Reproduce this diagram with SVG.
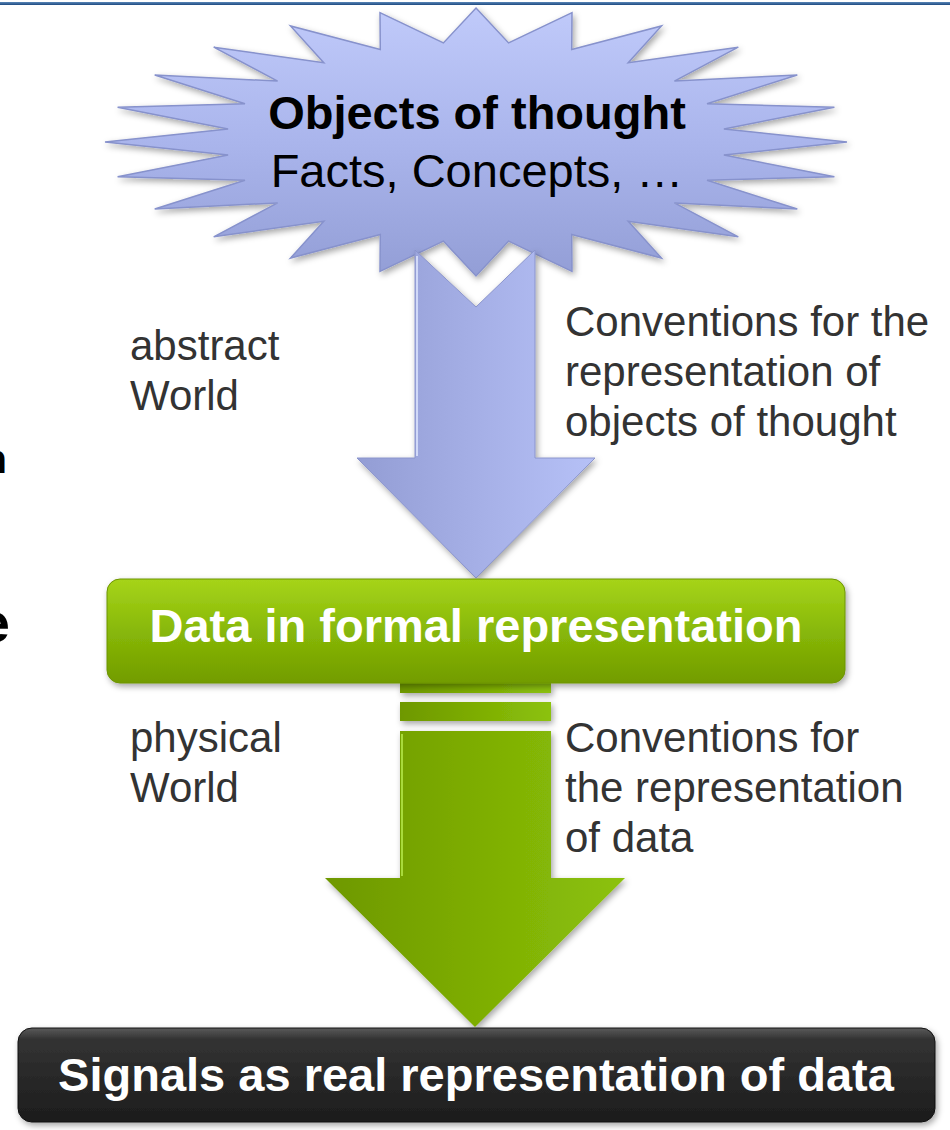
<svg xmlns="http://www.w3.org/2000/svg" width="950" height="1130" viewBox="0 0 950 1130">
<style>
.lbl{font-family:"Liberation Sans",Arial,sans-serif;font-size:42px;fill:#333333}
.big{font-family:"Liberation Sans",Arial,sans-serif;font-size:47px}
.b{font-weight:bold}
.white{fill:#ffffff;font-weight:bold;text-anchor:middle}
</style>
<defs>
<linearGradient id="gStar" x1="0" y1="0" x2="0" y2="1">
<stop offset="0" stop-color="#c0cafa"/>
<stop offset="0.5" stop-color="#aab5ec"/>
<stop offset="1" stop-color="#939ed6"/>
</linearGradient>
<linearGradient id="gBlueArrow" x1="0" y1="0" x2="1" y2="0">
<stop offset="0" stop-color="#939dd4"/>
<stop offset="0.5" stop-color="#a5afe6"/>
<stop offset="1" stop-color="#b6c1f7"/>
</linearGradient>
<linearGradient id="gGreenArrow" x1="0" y1="0" x2="1" y2="0">
<stop offset="0" stop-color="#6e9800"/>
<stop offset="0.5" stop-color="#7dad04"/>
<stop offset="1" stop-color="#8cc20a"/>
</linearGradient>
<linearGradient id="gGreenBox" x1="0" y1="0" x2="0" y2="1">
<stop offset="0" stop-color="#a6d41a"/>
<stop offset="0.5" stop-color="#88b808"/>
<stop offset="1" stop-color="#729c00"/>
</linearGradient>
<linearGradient id="gBlackBox" x1="0" y1="0" x2="0" y2="1">
<stop offset="0" stop-color="#5a5a5a"/>
<stop offset="0.12" stop-color="#333333"/>
<stop offset="1" stop-color="#1c1c1c"/>
</linearGradient>
<linearGradient id="gTopLine" x1="0" y1="0" x2="0" y2="1">
<stop offset="0" stop-color="#5a86b8"/>
<stop offset="1" stop-color="#1d4a80"/>
</linearGradient>
<filter id="shadow" x="-10%" y="-10%" width="120%" height="130%">
<feDropShadow dx="2" dy="3" stdDeviation="3" flood-color="#000" flood-opacity="0.35"/>
</filter>
</defs>

<rect x="0" y="2" width="950" height="3" fill="url(#gTopLine)"/>

<g id="edge-fragments" font-family="Liberation Sans,Arial,sans-serif" font-weight="bold" fill="#000">
<text x="7" y="473" font-size="40" text-anchor="end">n</text>
<text x="10" y="642" font-size="56" text-anchor="end">e</text>
</g>

<g id="node-objects">
<polygon filter="url(#shadow)" fill="url(#gStar)" stroke="#8792cc" stroke-width="1.5" stroke-linejoin="miter"
points="476,8 508.6,42.9 572,12.6 571.7,49.6 661.5,25.9 628.2,62.7 738.3,47.2 674.4,81.1 797.3,75 707,103.7 834.4,107.3 723.9,128.9 847,142 723.9,155.1 834.4,176.7 707,180.3 797.3,209 674.4,202.9 738.3,236.8 628.2,221.3 661.5,258.1 571.7,234.4 572,271.4 508.6,241.1 476,276 443.4,241.1 380,271.4 380.3,234.4 290.5,258.1 323.8,221.3 213.7,236.8 277.6,202.9 154.7,209 245,180.3 117.6,176.7 228.1,155.1 105,142 228.1,128.9 117.6,107.3 245,103.7 154.7,75 277.6,81.1 213.7,47.2 323.8,62.7 290.5,25.9 380.3,49.6 380,12.6 443.4,42.9"/>
<text class="big b" x="477" y="129" text-anchor="middle" fill="#000">Objects of thought</text>
<text class="big" x="477" y="187" text-anchor="middle" fill="#000">Facts, Concepts, …</text>
</g>

<g id="connectors">
<path id="arrow-abstract" filter="url(#shadow)" fill="url(#gBlueArrow)" stroke="#8a94cc" stroke-width="1"
d="M415,250 L476,307 L535,250 L535,458 L595,458 L476,578 L357,458 L415,458 Z"/>
<path d="M417,256 L417,456" stroke="#dfe6ff" stroke-width="2" fill="none" opacity="0.8"/>
<g id="arrow-physical" filter="url(#shadow)">
<rect x="400" y="683" width="151" height="10" fill="url(#gGreenArrow)"/>
<rect x="400" y="702" width="151" height="19" fill="url(#gGreenArrow)"/>
<path fill="url(#gGreenArrow)" d="M400,731 L551,731 L551,878 L625,878 L475,1027 L325,878 L400,878 Z"/>
</g>
<path d="M402,734 L402,876" stroke="#b6e84a" stroke-width="2" fill="none" opacity="0.8"/>
</g>

<g id="node-data">
<rect x="107" y="579" width="738" height="104" rx="13" ry="13" fill="url(#gGreenBox)" stroke="#6d9400" stroke-width="1" filter="url(#shadow)"/>
<text class="big white" x="476" y="642">Data in formal representation</text>
</g>

<g id="node-signals">
<rect x="18" y="1028" width="917" height="94" rx="14" ry="14" fill="url(#gBlackBox)" stroke="#111" stroke-width="1" filter="url(#shadow)"/>
<text class="big white" x="476" y="1091">Signals as real representation of data</text>
</g>

<g id="labels">
<text class="lbl" x="130" y="360">abstract</text>
<text class="lbl" x="130" y="410">World</text>
<text class="lbl" x="565" y="336">Conventions for the</text>
<text class="lbl" x="565" y="386">representation of</text>
<text class="lbl" x="565" y="436">objects of thought</text>
<text class="lbl" x="130" y="752">physical</text>
<text class="lbl" x="130" y="802">World</text>
<text class="lbl" x="565" y="752">Conventions for</text>
<text class="lbl" x="565" y="802">the representation</text>
<text class="lbl" x="565" y="852">of data</text>
</g>
</svg>
